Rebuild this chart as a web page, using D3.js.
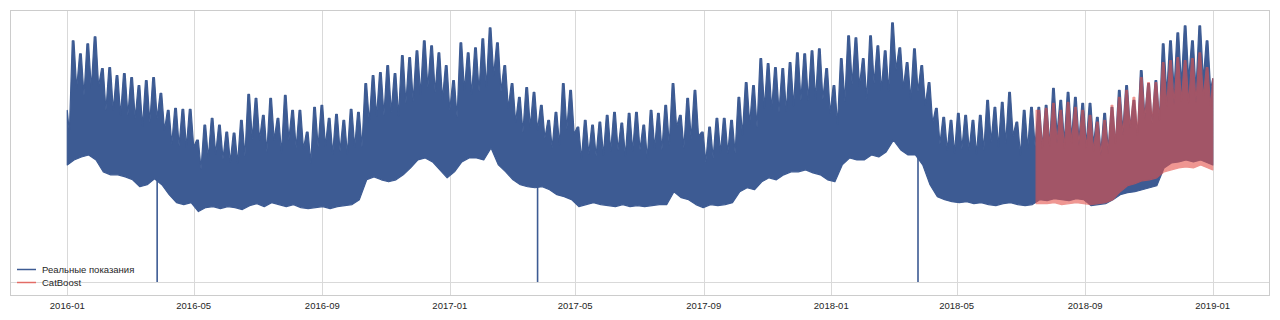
<!DOCTYPE html>
<html>
<head>
<meta charset="utf-8">
<script src="https://cdn.jsdelivr.net/npm/d3@7/dist/d3.min.js"></script>
<style>
  html, body { margin: 0; background: #fff; }
  svg { display: block; font-family: "Liberation Sans", Arial, sans-serif; }
</style>
</head>
<body>
<svg id="chart" width="1280" height="320"></svg>
<script>
// Hourly load, summarised per Monday-based week (first week starts 2015-12-28).
// high = weekday peak, weekend = weekend peak (the notch), low = weekly minimum.
const FIRST_MONDAY = '2015-12-28';
const SERIES_START = '2016-01-01';
const SERIES_END = '2019-01-01';
const CAT_START = '2018-07-16';
const CAT_FIRST_WEEK = 133;

const realHigh = [
  173, 243, 230, 240, 247, 215, 216, 208, 210, 206,
  198, 203, 206, 190, 173, 175, 174, 174, 143, 158,
  165, 158, 151, 150, 163, 189, 185, 168, 185, 165,
  188, 173, 173, 151, 176, 178, 165, 169, 163, 174,
  171, 200, 208, 211, 218, 210, 228, 226, 233, 243,
  238, 231, 218, 203, 241, 231, 236, 245, 256, 241,
  218, 200, 186, 196, 191, 178, 163, 171, 200, 193,
  156, 163, 158, 161, 168, 171, 160, 170, 171, 158,
  173, 170, 178, 200, 168, 185, 193, 151, 156, 165,
  165, 163, 186, 201, 198, 225, 220, 216, 215, 221,
  231, 230, 233, 235, 215, 198, 225, 248, 246, 225,
  248, 238, 233, 261, 236, 221, 235, 218, 201, 175,
  166, 163, 170, 168, 163, 168, 183, 176, 181, 191,
  161, 173, 176, 176, 178, 195, 183, 191, 186, 180,
  180, 166, 170, 176, 193, 198, 183, 213, 200, 203,
  240, 243, 251, 258, 243, 258, 243, 205,
];
const realWeekend = [
  151, 195, 188, 195, 197, 173, 173, 168, 168, 165,
  157, 161, 165, 153, 139, 137, 136, 136, 114, 125,
  129, 124, 121, 120, 127, 144, 143, 131, 143, 130,
  143, 135, 134, 120, 136, 137, 129, 132, 129, 136,
  136, 161, 167, 168, 171, 167, 180, 182, 189, 196,
  191, 184, 173, 166, 193, 189, 192, 196, 208, 192,
  175, 161, 151, 156, 153, 145, 135, 138, 154, 149,
  124, 129, 127, 128, 132, 133, 127, 132, 133, 125,
  135, 133, 138, 156, 135, 144, 147, 121, 125, 130,
  130, 130, 148, 159, 156, 175, 174, 171, 172, 177,
  183, 183, 184, 184, 170, 159, 182, 199, 197, 184,
  200, 193, 192, 214, 195, 184, 192, 178, 160, 139,
  133, 130, 134, 133, 129, 133, 141, 136, 140, 147,
  128, 135, 137, 136, 138, 149, 141, 145, 143, 139,
  139, 131, 134, 139, 152, 156, 148, 167, 160, 163,
  190, 194, 199, 204, 194, 204, 194, 170,
];
const realLow = [
  118, 123, 126, 128, 123, 111, 108, 108, 106, 103,
  96, 98, 104, 98, 88, 80, 78, 80, 71, 75,
  76, 74, 76, 75, 73, 77, 79, 76, 80, 78,
  76, 78, 75, 74, 75, 76, 74, 76, 77, 78,
  83, 103, 106, 103, 101, 103, 108, 115, 123, 125,
  121, 113, 105, 111, 121, 125, 125, 123, 135, 118,
  111, 103, 98, 96, 95, 96, 93, 88, 86, 83,
  76, 78, 80, 78, 77, 76, 78, 76, 77, 76,
  77, 78, 78, 91, 85, 83, 78, 75, 78, 77,
  78, 80, 91, 95, 93, 101, 105, 103, 108, 111,
  111, 113, 110, 108, 103, 101, 118, 125, 123, 123,
  128, 126, 131, 143, 133, 128, 128, 118, 98, 86,
  83, 81, 80, 81, 79, 80, 78, 77, 79, 80,
  78, 77, 78, 83, 82, 84, 83, 82, 84, 83,
  77, 78, 79, 83, 88, 90, 91, 93, 95, 97,
  115, 120, 121, 123, 121, 123, 120, 118,
];

// CatBoost forecast, weeks 133..157
const catHigh = [
  173, 175, 180, 173, 181, 176, 173, 168, 161, 163,
  178, 186, 193, 186, 206, 201, 201, 221, 223, 226,
  223, 225, 231, 216, 205,
];
const catWeekend = [
  135, 137, 140, 135, 140, 138, 135, 132, 128, 130,
  140, 148, 155, 151, 164, 162, 163, 177, 179, 182,
  180, 181, 186, 176, 168,
];
const catLow = [
  79, 79, 80, 78, 79, 80, 79, 78, 79, 80,
  83, 91, 97, 99, 102, 103, 105, 111, 113, 115,
  116, 115, 118, 115, 113,
];

// hours with a zero reading (clock change)
const zeroDays = ['2016-03-27', '2017-03-26', '2018-03-25'];

const legendLabels = ['Реальные показания', 'CatBoost'];
const BLUE = '#3d5b93';
const RED = '#e5524a';

const parse = d3.utcParse('%Y-%m-%d');
const DAY = 864e5;
const t0 = parse(SERIES_START);
const t1 = parse(SERIES_END);
const monday0 = parse(FIRST_MONDAY);

const box = { left: 10, right: 1270, top: 10, bottom: 295 };
const svg = d3.select('#chart');

const span = t1 - t0;
const x = d3.scaleUtc()
  .domain([new Date(+t0 - span * 0.05), new Date(+t1 + span * 0.05)])
  .range([box.left, box.right]);

const vmax = d3.max(realHigh);
const y = d3.scaleLinear()
  .domain([-vmax * 0.05, vmax * 1.05])
  .range([box.bottom, box.top]);

// ---- grid ----
const ticks = x.ticks(d3.utcMonth.every(4)).filter((d) => d >= t0 && d <= t1);
const grid = svg.append('g');
grid.selectAll('line.v')
  .data(ticks)
  .join('line')
  .attr('x1', (d) => Math.round(x(d)) + 0.5)
  .attr('x2', (d) => Math.round(x(d)) + 0.5)
  .attr('y1', box.top)
  .attr('y2', box.bottom)
  .attr('stroke', '#d9d9d9')
  .attr('stroke-width', 1);
grid.append('line')
  .attr('x1', box.left).attr('x2', box.right)
  .attr('y1', Math.round(y(0)) + 0.5).attr('y2', Math.round(y(0)) + 0.5)
  .attr('stroke', '#d9d9d9');

// ---- series ----
function weekStart(i) {
  return d3.utcDay.offset(monday0, 7 * i);
}
// weekday peak held Tue..Thu, falling to the weekend peak on Sunday
function bandPath(high, weekend, low, firstWeek, from, to) {
  const clamp = (d) => (d < from ? from : d > to ? to : d);
  const off = (s, days) => clamp(new Date(+s + days * DAY));
  const top = [[from, high[0]]];
  const bottom = [[from, low[0]]];
  high.forEach((h, k) => {
    const s = weekStart(firstWeek + k);
    top.push([off(s, 1.8), h], [off(s, 3.4), h], [off(s, 6), weekend[k]]);
    bottom.push([off(s, 3.5), low[k]]);
  });
  top.push([to, weekend[weekend.length - 1]]);
  bottom.push([to, low[low.length - 1]]);
  const line = d3.line().x((d) => x(d[0])).y((d) => y(d[1]));
  return line(top.concat(bottom.reverse())) + 'Z';
}

const plot = svg.append('g');

plot.selectAll('line.zero')
  .data(zeroDays)
  .join('line')
  .attr('x1', (d) => x(parse(d)))
  .attr('x2', (d) => x(parse(d)))
  .attr('y1', y(0))
  .attr('y2', (d) => {
    const idx = Math.floor((parse(d) - monday0) / (7 * DAY));
    return y(realLow[idx] + 10);
  })
  .attr('stroke', BLUE)
  .attr('stroke-width', 1.6);

plot.append('path')
  .attr('d', bandPath(realHigh, realWeekend, realLow, 0, t0, t1))
  .attr('fill', BLUE)
  .attr('stroke', BLUE)
  .attr('stroke-width', 1.2)
  .attr('stroke-linejoin', 'round');

plot.append('g')
  .attr('opacity', 0.6)
  .append('path')
  .attr('d', bandPath(catHigh, catWeekend, catLow, CAT_FIRST_WEEK, parse(CAT_START), t1))
  .attr('fill', RED)
  .attr('stroke', RED)
  .attr('stroke-width', 1.2)
  .attr('stroke-linejoin', 'round');

// ---- frame + x labels ----
svg.append('rect')
  .attr('x', box.left + 0.5).attr('y', box.top + 0.5)
  .attr('width', box.right - box.left - 1).attr('height', box.bottom - box.top)
  .attr('fill', 'none')
  .attr('stroke', '#cccccc');

svg.append('g')
  .selectAll('text')
  .data(ticks)
  .join('text')
  .attr('x', (d) => x(d))
  .attr('y', 308.5)
  .attr('text-anchor', 'middle')
  .attr('font-size', 9.5)
  .attr('fill', '#262626')
  .text(d3.utcFormat('%Y-%m'));

// ---- legend ----
const legend = svg.append('g');
[BLUE, RED].forEach((c, i) => {
  const ly = 269.5 + i * 13;
  legend.append('line')
    .attr('x1', 17).attr('x2', 36)
    .attr('y1', ly).attr('y2', ly)
    .attr('stroke', c)
    .attr('stroke-width', 1.5)
    .attr('opacity', i === 1 ? 0.8 : 1);
  legend.append('text')
    .attr('x', 42).attr('y', ly + 3.5)
    .attr('font-size', 9.5)
    .attr('fill', '#262626')
    .text(legendLabels[i]);
});
</script>
</body>
</html>
